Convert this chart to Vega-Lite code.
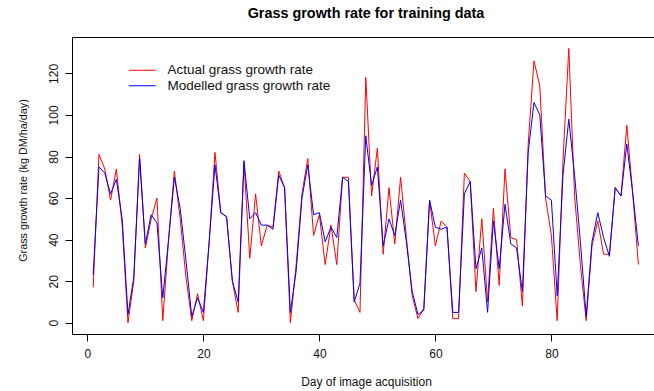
{
  "$schema": "https://vega.github.io/schema/vega-lite/v6.json",
  "width": 582,
  "height": 297,
  "autosize": {"type": "none"},
  "padding": {"left": 72, "top": 37, "right": 0, "bottom": 57},
  "background": "white",
  "config": {
    "view": {"stroke": null},
    "font": "Liberation Sans",
    "axis": {"grid": false, "domainColor": "#000", "tickColor": "#000", "labelColor": "#111", "titleColor": "#111", "labelFont": "Liberation Sans", "titleFont": "Liberation Sans", "titleFontWeight": "normal", "domainWidth": 1, "tickWidth": 1}
  },
  "title": {
    "text": "Grass growth rate for training data",
    "font": "Liberation Sans",
    "fontSize": 14.4,
    "fontWeight": "bold",
    "color": "#000",
    "anchor": "middle",
    "frame": "group",
    "baseline": "alphabetic",
    "offset": 5,
    "dx": 3
  },
  "data": {
    "values": [
      {"day": 1, "Actual": 17, "Modelled": 23},
      {"day": 2, "Actual": 81, "Modelled": 75},
      {"day": 3, "Actual": 74, "Modelled": 72},
      {"day": 4, "Actual": 59, "Modelled": 62},
      {"day": 5, "Actual": 74, "Modelled": 69},
      {"day": 6, "Actual": 47, "Modelled": 50},
      {"day": 7, "Actual": 0, "Modelled": 4},
      {"day": 8, "Actual": 20, "Modelled": 22},
      {"day": 9, "Actual": 81, "Modelled": 79},
      {"day": 10, "Actual": 36, "Modelled": 38},
      {"day": 11, "Actual": 50, "Modelled": 52},
      {"day": 12, "Actual": 60, "Modelled": 48},
      {"day": 13, "Actual": 1, "Modelled": 12},
      {"day": 14, "Actual": 40, "Modelled": 40},
      {"day": 15, "Actual": 73, "Modelled": 70},
      {"day": 16, "Actual": 50, "Modelled": 55},
      {"day": 17, "Actual": 22, "Modelled": 30},
      {"day": 18, "Actual": 1, "Modelled": 3},
      {"day": 19, "Actual": 14, "Modelled": 12},
      {"day": 20, "Actual": 1, "Modelled": 5},
      {"day": 21, "Actual": 39, "Modelled": 39},
      {"day": 22, "Actual": 82, "Modelled": 76},
      {"day": 23, "Actual": 53, "Modelled": 53},
      {"day": 24, "Actual": 51, "Modelled": 51},
      {"day": 25, "Actual": 20, "Modelled": 20},
      {"day": 26, "Actual": 5, "Modelled": 10},
      {"day": 27, "Actual": 77, "Modelled": 78},
      {"day": 28, "Actual": 31, "Modelled": 50},
      {"day": 29, "Actual": 62, "Modelled": 53},
      {"day": 30, "Actual": 37, "Modelled": 47},
      {"day": 31, "Actual": 47, "Modelled": 47},
      {"day": 32, "Actual": 46, "Modelled": 45},
      {"day": 33, "Actual": 73, "Modelled": 71},
      {"day": 34, "Actual": 65, "Modelled": 65},
      {"day": 35, "Actual": 0, "Modelled": 5},
      {"day": 36, "Actual": 28, "Modelled": 25},
      {"day": 37, "Actual": 62, "Modelled": 60},
      {"day": 38, "Actual": 79, "Modelled": 76},
      {"day": 39, "Actual": 42, "Modelled": 52},
      {"day": 40, "Actual": 52, "Modelled": 53},
      {"day": 41, "Actual": 28, "Modelled": 39},
      {"day": 42, "Actual": 47, "Modelled": 46},
      {"day": 43, "Actual": 28, "Modelled": 41},
      {"day": 44, "Actual": 70, "Modelled": 70},
      {"day": 45, "Actual": 70, "Modelled": 68},
      {"day": 46, "Actual": 11, "Modelled": 10},
      {"day": 47, "Actual": 5, "Modelled": 19},
      {"day": 48, "Actual": 118, "Modelled": 90},
      {"day": 49, "Actual": 61, "Modelled": 66},
      {"day": 50, "Actual": 84, "Modelled": 75},
      {"day": 51, "Actual": 33, "Modelled": 37},
      {"day": 52, "Actual": 65, "Modelled": 50},
      {"day": 53, "Actual": 38, "Modelled": 42},
      {"day": 54, "Actual": 70, "Modelled": 59},
      {"day": 55, "Actual": 41, "Modelled": 39},
      {"day": 56, "Actual": 13, "Modelled": 15},
      {"day": 57, "Actual": 2, "Modelled": 4},
      {"day": 58, "Actual": 7, "Modelled": 6},
      {"day": 59, "Actual": 59, "Modelled": 59},
      {"day": 60, "Actual": 37, "Modelled": 46},
      {"day": 61, "Actual": 49, "Modelled": 45},
      {"day": 62, "Actual": 46, "Modelled": 46},
      {"day": 63, "Actual": 2, "Modelled": 5},
      {"day": 64, "Actual": 2, "Modelled": 5},
      {"day": 65, "Actual": 72, "Modelled": 62},
      {"day": 66, "Actual": 68, "Modelled": 68},
      {"day": 67, "Actual": 15, "Modelled": 26},
      {"day": 68, "Actual": 50, "Modelled": 36},
      {"day": 69, "Actual": 10, "Modelled": 5},
      {"day": 70, "Actual": 55, "Modelled": 49},
      {"day": 71, "Actual": 18, "Modelled": 26},
      {"day": 72, "Actual": 74, "Modelled": 57},
      {"day": 73, "Actual": 41, "Modelled": 38},
      {"day": 74, "Actual": 40, "Modelled": 36},
      {"day": 75, "Actual": 8, "Modelled": 15},
      {"day": 76, "Actual": 86, "Modelled": 82},
      {"day": 77, "Actual": 126, "Modelled": 106},
      {"day": 78, "Actual": 114, "Modelled": 100},
      {"day": 79, "Actual": 60, "Modelled": 61},
      {"day": 80, "Actual": 42, "Modelled": 59},
      {"day": 81, "Actual": 1, "Modelled": 13},
      {"day": 82, "Actual": 78, "Modelled": 71},
      {"day": 83, "Actual": 132, "Modelled": 98},
      {"day": 84, "Actual": 61, "Modelled": 71},
      {"day": 85, "Actual": 28, "Modelled": 39},
      {"day": 86, "Actual": 1, "Modelled": 3},
      {"day": 87, "Actual": 37, "Modelled": 39},
      {"day": 88, "Actual": 49, "Modelled": 53},
      {"day": 89, "Actual": 33, "Modelled": 41},
      {"day": 90, "Actual": 33, "Modelled": 32},
      {"day": 91, "Actual": 65, "Modelled": 65},
      {"day": 92, "Actual": 61, "Modelled": 61},
      {"day": 93, "Actual": 95, "Modelled": 86},
      {"day": 94, "Actual": 63, "Modelled": 63},
      {"day": 95, "Actual": 28, "Modelled": 37}
    ]
  },
  "resolve": {"axis": {"x": "independent"}},
  "layer": [
    {
      "transform": [{"fold": ["Actual", "Modelled"], "as": ["series", "value"]}],
      "mark": {"type": "line", "strokeWidth": 1, "interpolate": "linear"},
      "encoding": {
        "x": {
          "field": "day",
          "type": "quantitative",
          "scale": {"domain": [-2.65, 97.69], "nice": false, "zero": false},
          "axis": {
            "orient": "bottom",
            "values": [0, 20, 40, 60, 80],
            "tickSize": 7,
            "labelFontSize": 12,
            "labelPadding": 7,
            "labelFlush": false,
            "title": "Day of image acquisition",
            "titleFontSize": 12,
            "titleX": 294,
            "titleY": 51,
            "titleAlign": "center",
            "titleBaseline": "alphabetic"
          }
        },
        "y": {
          "field": "value",
          "type": "quantitative",
          "scale": {"domain": [-5.4, 137.5], "nice": false, "zero": false},
          "axis": {
            "orient": "left",
            "values": [0, 20, 40, 60, 80, 100, 120],
            "tickSize": 7,
            "labelFontSize": 12,
            "labelAngle": 270,
            "labelAlign": "center",
            "labelBaseline": "alphabetic",
            "labelPadding": 8,
            "labelFlush": false,
            "title": "Grass growth rate (kg DM/ha/day)",
            "titleFontSize": 10.8,
            "titleAngle": 270,
            "titleX": -49,
            "titleY": 143,
            "titleAlign": "center",
            "titleBaseline": "middle"
          }
        },
        "color": {
          "field": "series",
          "type": "nominal",
          "scale": {"domain": ["Actual", "Modelled"], "range": ["#ff0000", "#0000ff"]},
          "legend": {
            "orient": "none",
            "legendX": 62.75,
            "legendY": 25.75,
            "title": null,
            "padding": 0,
            "symbolType": "M-2,0H2",
            "symbolSize": 182,
            "symbolStrokeWidth": 1,
            "symbolOpacity": 1,
            "labelFontSize": 13.5,
            "labelFont": "Liberation Sans",
            "labelColor": "#111",
            "labelOffset": 17.75,
            "labelLimit": 400,
            "rowPadding": 1.5,
            "labelExpr": "datum.label + ' grass growth rate'"
          }
        }
      }
    },
    {
      "mark": {"type": "rule", "opacity": 0},
      "encoding": {
        "x": {
          "field": "day",
          "type": "quantitative",
          "scale": {"domain": [-2.65, 97.69], "nice": false, "zero": false},
          "axis": {"orient": "top", "labels": false, "ticks": false, "title": null, "domain": true}
        }
      }
    }
  ]
}
